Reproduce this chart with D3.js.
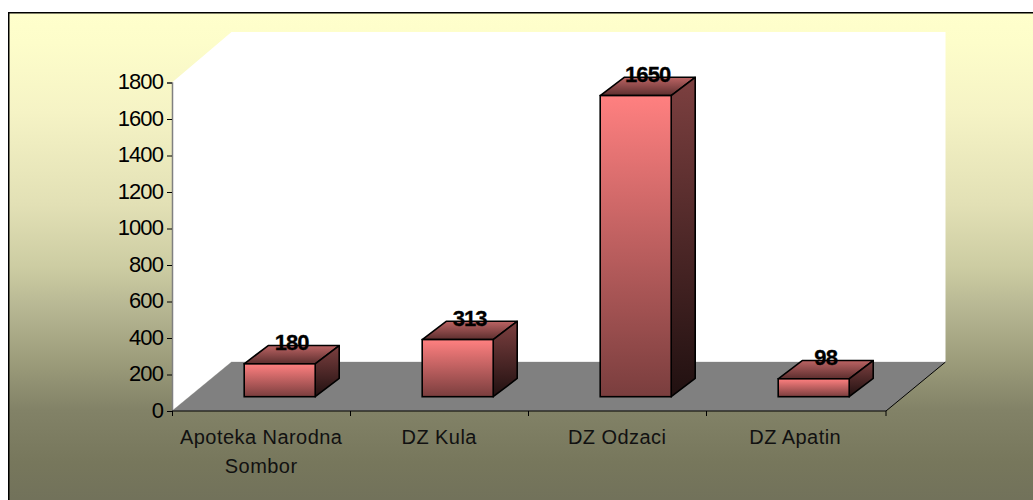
<!DOCTYPE html>
<html><head><meta charset="utf-8">
<script src="https://cdn.jsdelivr.net/npm/d3@7"></script>
<style>html,body{margin:0;padding:0;background:#fff;overflow:hidden}svg{display:block}</style>
</head><body><div id="c"></div>
<script>
const categories = [["Apoteka Narodna","Sombor"],["DZ Kula"],["DZ Odzaci"],["DZ Apatin"]];
const values = [180,313,1650,98];
const yTicks = [0,200,400,600,800,1000,1200,1400,1600,1800];

const W=1033,H=500;
const svg=d3.select("#c").append("svg").attr("width",W).attr("height",H);
const defs=svg.append("defs");
function grad(id,stops){
  const g=defs.append("linearGradient").attr("id",id).attr("x1",0).attr("y1",0).attr("x2",0).attr("y2",1);
  stops.forEach(s=>g.append("stop").attr("offset",s[0]).attr("stop-color",s[1]));
}
grad("bg",[[0,"#ffffcc"],[0.06,"#fdfdca"],[0.2,"#f5f3c5"],[0.385,"#e2e0b5"],[0.51,"#cccca2"],[0.59,"#b7b793"],[0.69,"#9e9e7c"],[0.795,"#828267"],[0.9,"#77775c"],[1,"#70705a"]]);
grad("front",[[0,"#ff8080"],[1,"#7a3e3e"]]);
grad("side",[[0,"#7d4040"],[1,"#201010"]]);
grad("top",[[0,"#bc6464"],[1,"#5c2e2e"]]);

const x=d3.scaleBand().domain(d3.range(values.length)).range([171.7,883.7]);
const y=d3.scaleLinear().domain([0,1800]).range([411,82.5]);
const x0=172,x1=886,wallTop=32;
const backX=59.5, backY=-49;
const barW=71, depX=24, depY=-18.3, frontX=19, frontY=-14.3;

svg.append("rect").attr("x",8.75).attr("y",12.75).attr("width",W).attr("height",H).attr("fill","url(#bg)").attr("stroke","#000").attr("stroke-width",1.5);

const yb=y(0),yt=y(1800);
const pts=a=>a.map(p=>p.join(",")).join(" ");
svg.append("polygon").attr("fill","#fff").attr("points",pts([[x0,yb],[x0,yt],[x0+backX,wallTop],[x1+backX,wallTop],[x1+backX,yb+backY],[x0+backX,yb+backY]]));
svg.append("polyline").attr("fill","none").attr("stroke","#d8d8d8").attr("points",pts([[x0,yb],[x0+backX,yb+backY],[x1+backX,yb+backY]]));
svg.append("polygon").attr("fill","#808080").attr("points",pts([[x0,yb],[x0+backX,yb+backY],[x1+backX,yb+backY],[x1,yb]]));
svg.append("line").attr("x1",x1).attr("y1",yb).attr("x2",x1+backX).attr("y2",yb+backY).attr("stroke","#000");

const ga=svg.append("g").attr("transform",`translate(${x0},0)`).call(d3.axisLeft(y).tickValues(yTicks).tickSize(5).tickPadding(4).tickFormat(d3.format("d")));
ga.select(".domain").attr("stroke","#808080").attr("stroke-width",1.5);
ga.selectAll("text").attr("font-family","'Liberation Sans'").attr("font-size",22).attr("fill","#000").attr("letter-spacing",-0.9).attr("y",-1);
const gb=svg.append("g").attr("transform",`translate(0,${yb})`);
gb.append("line").attr("x1",x0).attr("x2",x1).attr("stroke","#000").attr("stroke-width",1.2);
x.domain().forEach(i=>{
  const tx=Math.round(x(i))+0.5;
  gb.append("line").attr("x1",tx).attr("x2",tx).attr("y2",5).attr("stroke","#000");
});
gb.append("line").attr("x1",x1).attr("x2",x1).attr("y2",5).attr("stroke","#000");
categories.forEach((c,i)=>{
  c.forEach((t,j)=>{
    gb.append("text").text(t).attr("x",x(i)+x.bandwidth()/2+0.5).attr("y",33+j*29)
      .attr("text-anchor","middle").attr("font-family","'Liberation Sans'").attr("font-size",20).attr("letter-spacing",0.45).attr("fill","#111");
  });
});

const bars=svg.selectAll("g.bar").data(values).join("g").attr("class","bar");
const fx=i=>x(i)+x.bandwidth()/2-barW/2+frontX;
const by=yb+frontY;
const ft=v=>by-(y(0)-y(v));
const sw=1.6;
bars.append("polygon").attr("fill","url(#top)").attr("stroke","#000").attr("stroke-width",sw).attr("stroke-linejoin","round")
  .attr("points",(v,i)=>pts([[fx(i),ft(v)],[fx(i)+depX,ft(v)+depY],[fx(i)+barW+depX,ft(v)+depY],[fx(i)+barW,ft(v)]]));
bars.append("polygon").attr("fill","url(#side)").attr("stroke","#000").attr("stroke-width",sw).attr("stroke-linejoin","round")
  .attr("points",(v,i)=>pts([[fx(i)+barW,ft(v)],[fx(i)+barW+depX,ft(v)+depY],[fx(i)+barW+depX,by+depY],[fx(i)+barW,by]]));
bars.append("rect").attr("fill","url(#front)").attr("stroke","#000").attr("stroke-width",sw)
  .attr("x",(v,i)=>fx(i)).attr("y",v=>ft(v)).attr("width",barW).attr("height",v=>by-ft(v));
bars.append("text").text(v=>v).attr("x",(v,i)=>fx(i)+barW/2+12).attr("y",v=>ft(v)-14)
  .attr("text-anchor","middle").attr("font-family","'Liberation Sans'").attr("font-weight","bold").attr("font-size",22).attr("letter-spacing",-0.9).attr("fill","#000").attr("stroke","#000").attr("stroke-width",0.3);
</script></body></html>
